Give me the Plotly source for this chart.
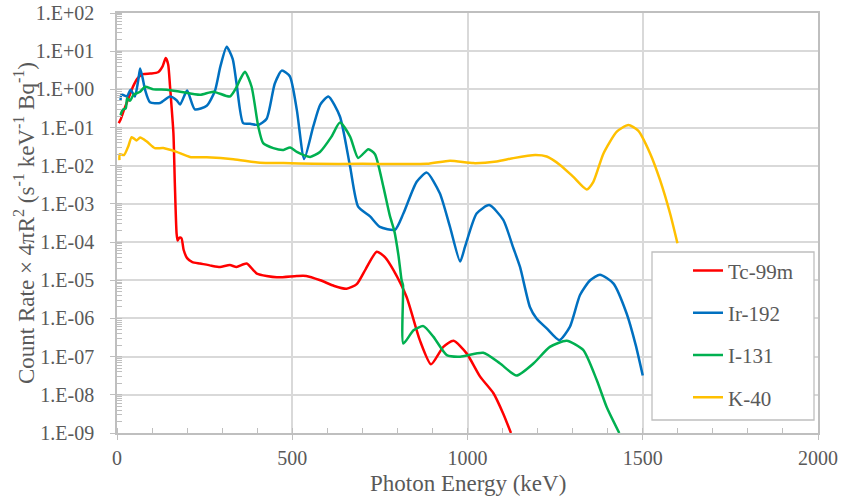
import plotly.graph_objects as go

# ---------------- data ----------------
tc_E = [5, 10, 20, 30, 46, 60, 74, 95, 117, 130, 139, 146, 151, 156, 161, 165, 170, 173, 178, 184,
        190, 200, 215, 237, 270, 294, 322, 341, 370, 399, 456, 513, 540, 580, 620, 655, 684, 710,
        741, 765, 788, 826, 864, 896, 931, 960, 998, 1036, 1074, 1102, 1124]
tc_C = [1.3e-1, 1.6e-1, 2.9e-1, 5.0e-1, 1.2, 2.0, 2.5, 2.6, 2.8, 4.0, 6.6, 4.5, 1.3, 3.2e-1, 7.1e-2,
        3.5e-3, 1.7e-4, 1.1e-4, 1.3e-4, 1.26e-4, 6.3e-5, 3.8e-5, 3.0e-5, 2.75e-5, 2.4e-5, 2.24e-5,
        2.5e-5, 2.24e-5, 2.75e-5, 1.5e-5, 1.2e-5, 1.3e-5, 1.3e-5, 1.0e-5, 7.1e-6, 6.0e-6, 7.9e-6,
        2.0e-5, 5.6e-5, 4.0e-5, 1.9e-5, 3.7e-6, 2.7e-7, 6.3e-8, 1.8e-7, 2.6e-7, 1.2e-7, 3.0e-8,
        1.1e-8, 3.2e-9, 1.0e-9]

ir_E = [10, 12, 16, 28, 39, 51, 60, 66, 73, 80, 94, 123, 151, 170, 180, 200, 222, 256, 279, 295,
        313, 330, 341, 360, 380, 403, 427, 450, 470, 493, 513, 534, 560, 580, 603, 636, 665, 688,
        722, 750, 793, 817, 855, 884, 921, 950, 979, 993, 1026, 1062, 1102, 1131, 1150, 1178, 1197,
        1226, 1262, 1292, 1321, 1350, 1378, 1416, 1454, 1480, 1500]
ir_C = [0.5, 0.71, 0.72, 0.65, 0.98, 0.65, 1.6, 3.5, 2.0, 0.98, 0.46, 0.44, 0.65, 0.52, 0.40, 0.93,
        0.30, 0.37, 0.89, 4.0, 13, 6.3, 1.45, 0.13, 0.126, 0.117, 0.17, 1.4, 3.1, 2.2, 0.29, 0.015,
        0.107, 0.40, 0.65, 0.195, 9.5e-3, 8.5e-4, 4.7e-4, 2.5e-4, 2.1e-4, 5.6e-4, 3.8e-3, 6.6e-3,
        1.9e-3, 2.5e-4, 3.1e-5, 7.6e-5, 5.6e-4, 9.3e-4, 3.8e-4, 6.9e-5, 2.2e-5, 2.0e-6, 1.0e-6,
        5.5e-7, 2.7e-7, 6.0e-7, 4.1e-6, 1.0e-5, 1.4e-5, 8.3e-6, 1.35e-6, 2.0e-7, 3.2e-8]

i_E = [10, 16, 25, 29, 37, 47, 66, 80, 104, 142, 180, 237, 275, 322, 340, 351, 365, 384, 403, 417,
       446, 475, 494, 513, 551, 579, 612, 636, 665, 688, 717, 736, 760, 779, 791, 803, 812, 816,
       817, 846, 874, 903, 941, 979, 1045, 1093, 1140, 1188, 1235, 1283, 1330, 1369, 1397, 1433]
i_C = [0.21, 0.29, 0.32, 0.59, 0.50, 0.72, 0.87, 1.17, 1.0, 0.98, 0.87, 0.72, 0.87, 0.65, 1.1, 1.8,
       2.9, 1.17, 0.107, 0.039, 0.029, 0.026, 0.030, 0.023, 0.017, 0.023, 0.058, 0.135, 0.058,
       0.016, 0.027, 0.020, 2.8e-3, 4.7e-4, 2.0e-4, 4.5e-5, 1.0e-5, 7.4e-6, 2.2e-7, 4.9e-7, 6.3e-7,
       3.3e-7, 1.1e-7, 1.0e-7, 1.26e-7, 6.6e-8, 3.2e-8, 6.6e-8, 1.8e-7, 2.6e-7, 1.5e-7, 2.4e-8,
       4.8e-9, 1.0e-9]

k_E = [7, 8, 20, 32, 42, 56, 66, 85, 108, 132, 170, 208, 256, 332, 408, 475, 560, 700, 884, 950,
       1017, 1083, 1131, 1193, 1226, 1264, 1302, 1340, 1359, 1388, 1426, 1459, 1487, 1521, 1549,
       1578, 1599]
k_C = [0.014, 0.020, 0.019, 0.032, 0.056, 0.046, 0.055, 0.043, 0.029, 0.029, 0.023, 0.017, 0.0166,
       0.0148, 0.012, 0.0117, 0.0112, 0.0112, 0.0112, 0.0135, 0.0117, 0.0129, 0.0158, 0.019,
       0.0174, 0.0105, 5.1e-3, 2.4e-3, 3.8e-3, 0.021, 0.078, 0.117, 0.083, 0.021, 4.3e-3, 5.6e-4,
       9.3e-5]

series_names = ["Tc-99m", "Ir-192", "I-131", "K-40"]
series_colors = ["#FF0000", "#0070C0", "#00B050", "#FFC000"]

y_tickvals = [1e-9, 1e-8, 1e-7, 1e-6, 1e-5, 1e-4, 1e-3, 1e-2, 1e-1, 1e0, 1e1, 1e2]
y_ticktext = ["1.E-09", "1.E-08", "1.E-07", "1.E-06", "1.E-05", "1.E-04", "1.E-03", "1.E-02",
              "1.E-01", "1.E+00", "1.E+01", "1.E+02"]

x_title = "Photon Energy (keV)"
y_title = "Count Rate × 4πR<sup>2</sup> (s<sup>-1</sup> keV<sup>-1</sup> Bq<sup>-1</sup>)"

# ---------------- figure ----------------
FONT = "Liberation Serif, Times New Roman, Times, serif"
GRAY = "#595959"
GRID = "#D9D9D9"
AXIS = "#BFBFBF"

fig = go.Figure()
for (E, C), name, col in zip([(tc_E, tc_C), (ir_E, ir_C), (i_E, i_C), (k_E, k_C)],
                             series_names, series_colors):
    fig.add_trace(go.Scatter(x=E, y=C, mode="lines", name=name, legendgroup=name,
                             line=dict(color=col, width=2.5, shape="spline", smoothing=0.6)))

fig.update_layout(
    template="none",
    width=844, height=500,
    margin=dict(l=117, r=26, t=13, b=67, autoexpand=False),
    paper_bgcolor="white", plot_bgcolor="white",
    font=dict(family=FONT, color=GRAY, size=20),
    showlegend=True,
    legend=dict(x=(688 - 117) / 701, y=0.435, xanchor="left", yanchor="top",
                bgcolor="rgba(0,0,0,0)", borderwidth=0,
                font=dict(family=FONT, size=21, color=GRAY),
                traceorder="grouped", tracegroupgap=12),
    shapes=[dict(type="rect", xref="paper", yref="paper",
                 x0=(652 - 117) / 701, x1=(814 - 117) / 701,
                 y0=(433 - 420) / 420, y1=(433 - 252) / 420,
                 fillcolor="white", line=dict(color=AXIS, width=1.3), layer="above")],
    annotations=[
        dict(text=x_title, xref="paper", yref="paper", x=0.5, y=(433 - 483) / 420,
             xanchor="center", yanchor="middle", showarrow=False,
             font=dict(family=FONT, size=23, color=GRAY)),
        dict(text=y_title, xref="paper", yref="paper", x=(24 - 117) / 701, y=0.5,
             xanchor="center", yanchor="middle", showarrow=False, textangle=-90,
             font=dict(family=FONT, size=23, color=GRAY)),
    ],
)

fig.update_xaxes(range=[0, 2000], dtick=500, tick0=0, automargin=False,
                 showgrid=True, gridcolor=GRID, gridwidth=1.5,
                 showline=True, linecolor=AXIS, linewidth=1.5, mirror=True,
                 ticks="outside", ticklen=5, tickcolor=AXIS, tickwidth=1,
                 ticklabelstandoff=1,
                 minor=dict(dtick=100, tick0=0, ticks="inside", ticklen=5,
                            tickcolor=AXIS, showgrid=False),
                 zeroline=False, tickfont=dict(family=FONT, size=20, color=GRAY))
fig.update_yaxes(type="log", range=[-9, 2], tickmode="array", automargin=False,
                 tickvals=y_tickvals, ticktext=y_ticktext,
                 showgrid=True, gridcolor=GRID, gridwidth=1.5,
                 showline=True, linecolor=AXIS, linewidth=1.5, mirror=True,
                 ticks="outside", ticklen=5, tickcolor=AXIS, tickwidth=1,
                 ticklabelstandoff=12,
                 minor=dict(dtick="D1", ticks="inside", ticklen=5,
                            tickcolor=AXIS, showgrid=False),
                 zeroline=False, tickfont=dict(family=FONT, size=20, color=GRAY))

fig.write_html("out.html")
